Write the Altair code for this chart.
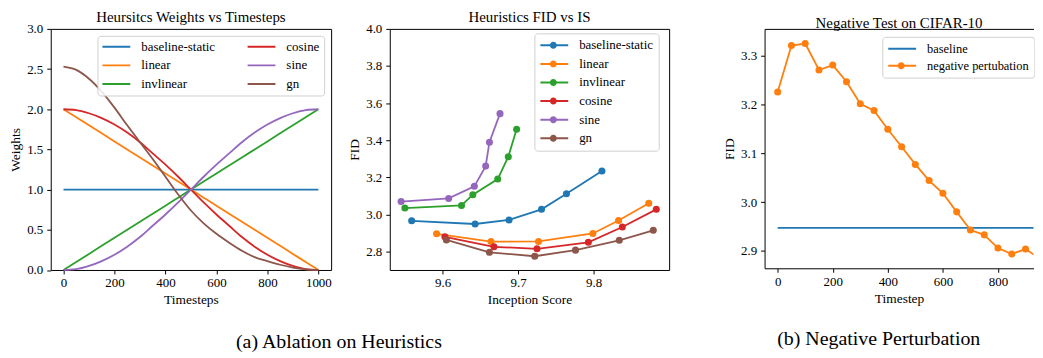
import altair as alt
import pandas as pd

FONT = "Liberation Serif"

# ---------------- Panel 1: Heuristics weights vs timesteps ----------------
timesteps = [0, 50, 100, 150, 200, 250, 300, 350, 400, 450, 500,
             550, 600, 650, 700, 750, 800, 850, 900, 950, 1000]
w_baseline = [1.0, 1.0, 1.0, 1.0, 1.0, 1.0, 1.0, 1.0, 1.0, 1.0, 1.0,
              1.0, 1.0, 1.0, 1.0, 1.0, 1.0, 1.0, 1.0, 1.0, 1.0]
w_linear = [2.0, 1.9, 1.8, 1.7, 1.6, 1.5, 1.4, 1.3, 1.2, 1.1, 1.0,
            0.9, 0.8, 0.7, 0.6, 0.5, 0.4, 0.3, 0.2, 0.1, 0.0]
w_invlinear = [0.0, 0.1, 0.2, 0.3, 0.4, 0.5, 0.6, 0.7, 0.8, 0.9, 1.0,
               1.1, 1.2, 1.3, 1.4, 1.5, 1.6, 1.7, 1.8, 1.9, 2.0]
w_cosine = [2.00, 1.99, 1.95, 1.89, 1.81, 1.71, 1.59, 1.45, 1.31, 1.16, 1.00,
            0.84, 0.69, 0.55, 0.41, 0.29, 0.19, 0.11, 0.05, 0.01, 0.00]
w_sine = [0.00, 0.01, 0.05, 0.11, 0.19, 0.29, 0.41, 0.55, 0.69, 0.84, 1.00,
          1.16, 1.31, 1.45, 1.59, 1.71, 1.81, 1.89, 1.95, 1.99, 2.00]
w_gn = [2.53, 2.49, 2.38, 2.22, 2.02, 1.80, 1.59, 1.38, 1.16, 0.94, 0.74,
        0.58, 0.45, 0.34, 0.24, 0.16, 0.11, 0.065, 0.03, 0.008, 0.0]

SERIES = ["baseline-static", "linear", "invlinear", "cosine", "sine", "gn"]
COLORS = ["#1f77b4", "#ff7f0e", "#2ca02c", "#d62728", "#9467bd", "#8c564b"]

# ---------------- Panel 2: FID vs IS ----------------
is_vals = {
    "baseline-static": [9.559, 9.643, 9.688, 9.731, 9.764, 9.811],
    "linear": [9.592, 9.664, 9.727, 9.799, 9.833, 9.873],
    "invlinear": [9.550, 9.625, 9.640, 9.673, 9.687, 9.698],
    "cosine": [9.603, 9.668, 9.725, 9.793, 9.838, 9.883],
    "sine": [9.545, 9.608, 9.642, 9.657, 9.662, 9.676],
    "gn": [9.605, 9.662, 9.722, 9.776, 9.834, 9.879],
}
fid_vals = {
    "baseline-static": [2.965, 2.948, 2.970, 3.027, 3.111, 3.234],
    "linear": [2.895, 2.853, 2.854, 2.897, 2.967, 3.060],
    "invlinear": [3.034, 3.048, 3.106, 3.190, 3.311, 3.459],
    "cosine": [2.879, 2.825, 2.814, 2.849, 2.932, 3.027],
    "sine": [3.069, 3.086, 3.151, 3.260, 3.389, 3.543],
    "gn": [2.862, 2.795, 2.774, 2.807, 2.860, 2.914],
}

# ---------------- Panel 3: negative test on CIFAR-10 ----------------
ts3 = [0, 50, 100, 150, 200, 250, 300, 350, 400, 450,
       500, 550, 600, 650, 700, 750, 800, 850, 900, 950]
fid_neg = [3.225, 3.320, 3.324, 3.270, 3.280, 3.246, 3.201, 3.187, 3.149, 3.113,
           3.077, 3.044, 3.018, 2.980, 2.943, 2.933, 2.906, 2.894, 2.904, 2.885]
base_ts = [0, 950]
base_fid = [2.9475, 2.9475]
SERIES3 = ["baseline", "negative pertubation"]
COLORS3 = ["#1f77b4", "#ff7f0e"]

# ---------------- tables ----------------
w_lists = [w_baseline, w_linear, w_invlinear, w_cosine, w_sine, w_gn]
rows1 = []
for s, vals in zip(SERIES, w_lists):
    for t, v in zip(timesteps, vals):
        rows1.append({"series": s, "t": t, "w": v})
df1 = pd.DataFrame(rows1)

rows2 = []
for s in SERIES:
    for i, (a, b) in enumerate(zip(is_vals[s], fid_vals[s])):
        rows2.append({"series": s, "idx": i, "is": a, "fid": b})
df2 = pd.DataFrame(rows2)

rows3 = [{"series": "baseline", "t": t, "fid": f} for t, f in zip(base_ts, base_fid)]
rows3 += [{"series": "negative pertubation", "t": t, "fid": f} for t, f in zip(ts3, fid_neg)]
df3 = pd.DataFrame(rows3)
df3p = df3[df3["series"] == "negative pertubation"]

CIRCLE = "M0.25,0A0.25,0.25,0,1,1,-0.25,0A0.25,0.25,0,1,1,0.25,0Z"

def leg(**kw):
    base = dict(title=None, symbolSize=784, clipHeight=14, labelOffset=10,
                padding=5, labelFont=FONT, labelFontSize=13, labelColor="black")
    base.update(kw)
    return alt.Legend(**base)

def ttl(text):
    return alt.TitleParams(text, offset=-2, fontSize=15)

# ---------------- Panel 1 chart ----------------
p1 = alt.Chart(df1, title=ttl("Heursitcs Weights vs Timesteps")).mark_line(
    strokeWidth=1.8, interpolate="monotone"
).encode(
    x=alt.X("t:Q", scale=alt.Scale(domain=[-50, 1050], nice=False, zero=False),
            axis=alt.Axis(values=[0, 200, 400, 600, 800, 1000], format="d", title="Timesteps")),
    y=alt.Y("w:Q", scale=alt.Scale(domain=[0, 3.0], nice=False),
            axis=alt.Axis(values=[0, 0.5, 1.0, 1.5, 2.0, 2.5, 3.0], format=".1f", title="Weights")),
    color=alt.Color("series:N",
                    scale=alt.Scale(domain=SERIES, range=COLORS),
                    legend=leg(orient="top-right", offset=7, columns=2, columnPadding=31,
                               rowPadding=4.7, symbolType="stroke", symbolStrokeWidth=2,
                               strokeColor="#d0d0d0", fillColor="rgba(255,255,255,0.85)",
                               cornerRadius=3, padding=4)),
    detail="series:N",
).properties(width=282, height=242.5)

# ---------------- Panel 2 chart ----------------
x2 = alt.X("is:Q", scale=alt.Scale(domain=[9.53, 9.90], nice=False, zero=False),
           axis=alt.Axis(values=[9.6, 9.7, 9.8], format=".1f", title="Inception Score"))
y2 = alt.Y("fid:Q", scale=alt.Scale(domain=[2.70, 4.0], nice=False, zero=False),
           axis=alt.Axis(values=[2.8, 3.0, 3.2, 3.4, 3.6, 3.8, 4.0], format=".1f", title="FID"))
lines2 = alt.Chart(df2).mark_line(strokeWidth=1.8).encode(
    x=x2, y=y2, order="idx:Q",
    stroke=alt.Stroke("series:N", scale=alt.Scale(domain=SERIES, range=COLORS),
                      legend=leg(orient="none", legendX=145.5, legendY=4.5, rowPadding=4.7,
                                 symbolType="stroke", symbolStrokeWidth=2,
                                 strokeColor="#d0d0d0", cornerRadius=3)),
)
points2 = alt.Chart(df2).mark_point(filled=True, size=50, opacity=1).encode(
    x=x2, y=y2,
    fill=alt.Fill("series:N", scale=alt.Scale(domain=SERIES + [" "], range=COLORS + ["transparent"]),
                  legend=leg(orient="none", legendX=145.5, legendY=4.5, rowPadding=4.7,
                             symbolType=CIRCLE, symbolStrokeWidth=0, values=SERIES,
                             labelOpacity=0)),
)
p2 = alt.layer(lines2, points2, title=ttl("Heuristics FID vs IS")).properties(
    width=281, height=242.5)

# ---------------- Panel 3 chart ----------------
sc3x = alt.Scale(domain=[-47.5, 929], nice=False, zero=False)
y3 = alt.Y("fid:Q", scale=alt.Scale(domain=[2.8647, 3.354], nice=False, zero=False),
           axis=alt.Axis(values=[2.9, 3.0, 3.1, 3.2, 3.3], format=".1f", title="FID",
                         domain=True, domainColor="black", domainWidth=1))
lines3 = alt.Chart(df3).mark_line(strokeWidth=1.8, clip=True).encode(
    x=alt.X("t:Q", scale=sc3x,
            axis=alt.Axis(values=[0, 200, 400, 600, 800], format="d", title="Timestep",
                          domain=True, domainColor="black", domainWidth=1)),
    y=y3, order="t:Q",
    stroke=alt.Stroke("series:N", scale=alt.Scale(domain=SERIES3, range=COLORS3),
                      legend=leg(orient="none", legendX=118.4, legendY=8, rowPadding=3,
                                 labelFontSize=12.5,
                                 symbolType="stroke", symbolStrokeWidth=2,
                                 strokeColor="#d0d0d0", cornerRadius=3)),
)
points3 = alt.Chart(df3p).mark_point(filled=True, size=50, opacity=1, clip=True).encode(
    x=alt.X("t:Q", scale=sc3x, axis=None),
    y=y3,
    fill=alt.Fill("series:N", scale=alt.Scale(domain=SERIES3 + [" "],
                                              range=["transparent", "#ff7f0e", "transparent"]),
                  legend=leg(orient="none", legendX=118.4, legendY=8, rowPadding=3,
                             labelFontSize=12.5,
                             symbolType=CIRCLE, symbolStrokeWidth=0, values=SERIES3,
                             labelOpacity=0)),
)
top3 = alt.Chart(df3p).mark_point(opacity=0, clip=True).encode(
    x=alt.X("t:Q", scale=sc3x,
            axis=alt.Axis(orient="top", labels=False, ticks=False, title=None,
                          domain=True, domainColor="black", domainWidth=1)),
    y=y3,
)
p3 = alt.layer(lines3, points3, top3,
               title=ttl("Negative Test on CIFAR-10"),
               view=alt.ViewBackground(stroke=None)).resolve_axis(x="independent").properties(
    width=270.5, height=240.8)

capA = alt.TitleParams("(a) Ablation on Heuristics", orient="bottom", anchor="middle",
                       fontSize=20, font=FONT, fontWeight="normal", offset=25, color="black")
capB = alt.TitleParams("(b) Negative Perturbation", orient="bottom", anchor="middle",
                       fontSize=20, font=FONT, fontWeight="normal", offset=25, color="black")

IND = dict(color="independent", stroke="independent", fill="independent")

A = alt.hconcat(p1, p2, spacing=15).properties(title=capA).resolve_scale(**IND).resolve_legend(**IND)
B = alt.hconcat(p3).properties(title=capB).resolve_scale(**IND).resolve_legend(**IND)

chart = alt.hconcat(A, B, spacing=52).resolve_scale(**IND).resolve_legend(**IND).properties(
    padding=0
).configure_view(
    stroke="black", strokeWidth=1
).configure_axis(
    domain=False, grid=False, tickColor="black", tickSize=4, tickWidth=1,
    labelPadding=3, labelFont=FONT, labelFontSize=13, labelColor="black",
    titleFont=FONT, titleFontSize=13.5, titleFontWeight="normal", titleColor="black",
    titlePadding=3,
).configure_axisY(
    titlePadding=4, labelPadding=4
).configure_title(
    font=FONT, fontSize=16, fontWeight="normal", color="black"
)

chart.save("out.html", embed_options={"renderer": "svg", "actions": False})
